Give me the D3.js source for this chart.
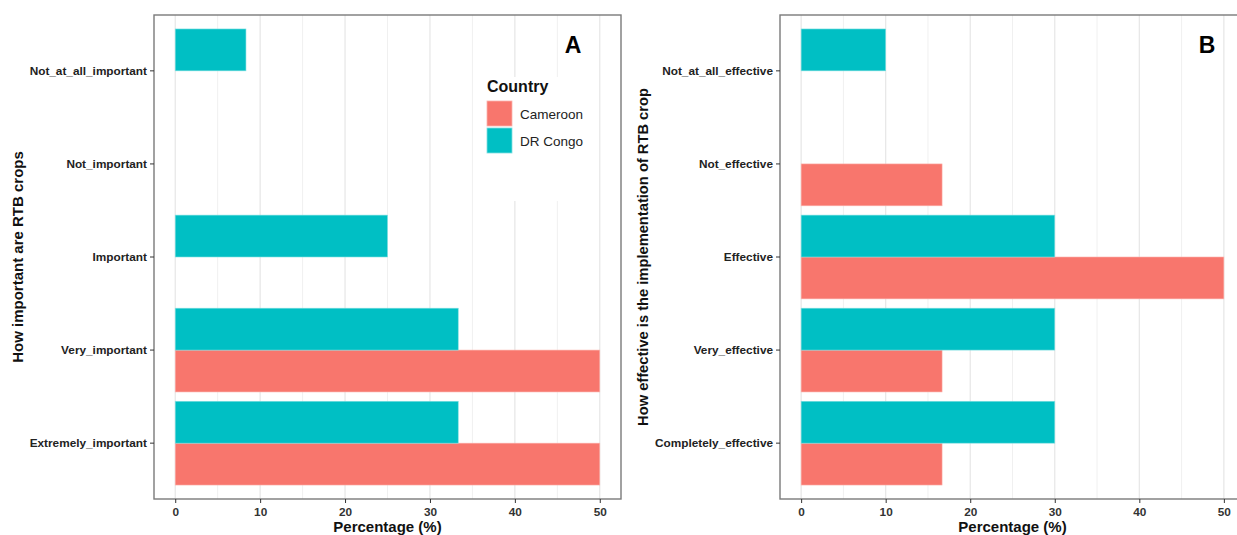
<!DOCTYPE html>
<html>
<head>
<meta charset="utf-8">
<script src="https://cdn.jsdelivr.net/npm/d3@7"></script>
<style>
html,body{margin:0;padding:0;background:#fff;}
svg{display:block;font-family:"Liberation Sans",Arial,sans-serif;}
</style>
</head>
<body>
<svg id="chart" width="1237" height="535"></svg>
<script>
// ---- data ----
const countries = ["Cameroon", "DR Congo"];
const colors = ["#F8766D", "#00BFC4"];

const categoriesA = ["Not_at_all_important", "Not_important", "Important", "Very_important", "Extremely_important"];
const cameroonA = [0, 0, 0, 50, 50];
const drcongoA = [8.33, 0, 25, 33.33, 33.33];

const categoriesB = ["Not_at_all_effective", "Not_effective", "Effective", "Very_effective", "Completely_effective"];
const cameroonB = [0, 16.67, 50, 16.67, 16.67];
const drcongoB = [10, 0, 30, 30, 30];

const xTicks = [0, 10, 20, 30, 40, 50];
const xMinor = [5, 15, 25, 35, 45];

const svg = d3.select("#chart");

function panel(opts) {
  const {left, right, top, bottom, cats, cam, drc, ytitle, ytitleX, ytitleSize, letter, letterX, legend} = opts;
  const g = svg.append("g");
  const x = d3.scaleLinear().domain([-2.5, 52.5]).range([left, right]);
  const y = d3.scaleBand().domain(cats).range([top, bottom]).paddingInner(0.1).paddingOuter(0.15);
  const sub = d3.scaleBand().domain(["DR Congo", "Cameroon"]).range([0, y.bandwidth()]);

  const clipId = "clip" + letter;
  svg.append("clipPath").attr("id", clipId).append("rect")
    .attr("x", left).attr("y", top).attr("width", right - left).attr("height", bottom - top);
  const pg = g.append("g").attr("clip-path", `url(#${clipId})`);

  // grid
  pg.selectAll(".minor").data(xMinor).enter().append("line")
    .attr("x1", d => x(d)).attr("x2", d => x(d)).attr("y1", top).attr("y2", bottom)
    .attr("stroke", "#f0f0f0").attr("stroke-width", 1);
  pg.selectAll(".major").data(xTicks).enter().append("line")
    .attr("x1", d => x(d)).attr("x2", d => x(d)).attr("y1", top).attr("y2", bottom)
    .attr("stroke", "#e6e6e6").attr("stroke-width", 1.2);

  // bars
  const rows = [];
  cats.forEach((c, i) => {
    rows.push({cat: c, country: "Cameroon", v: cam[i]});
    rows.push({cat: c, country: "DR Congo", v: drc[i]});
  });
  pg.selectAll(".bar").data(rows.filter(d => d.v > 0)).enter().append("rect")
    .attr("x", x(0))
    .attr("y", d => y(d.cat) + sub(d.country))
    .attr("width", d => x(d.v) - x(0))
    .attr("height", sub.bandwidth())
    .attr("fill", d => colors[countries.indexOf(d.country)])
    .attr("stroke", d => d.country === "Cameroon" ? "#fbb3ad" : "#7fdfe1")
    .attr("stroke-width", 0.6);

  // legend
  if (legend) {
    const lg = pg.append("g");
    lg.append("rect").attr("x", 476).attr("y", 77).attr("width", 119).attr("height", 124).attr("fill", "#fff");
    lg.append("text").attr("x", 487).attr("y", 92).attr("font-size", 16).attr("font-weight", "bold")
      .attr("fill", "#111").text("Country");
    countries.forEach((c, i) => {
      lg.append("rect").attr("x", 487).attr("y", 101 + i * 27).attr("width", 25).attr("height", 25)
        .attr("fill", colors[i]).attr("stroke", i === 0 ? "#fbb3ad" : "#7fdfe1").attr("stroke-width", 0.8);
      lg.append("text").attr("x", 520).attr("y", 118.5 + i * 27).attr("font-size", 13.5)
        .attr("fill", "#222").text(c);
    });
  }

  // panel letter
  g.append("text").attr("x", letterX).attr("y", 53).attr("text-anchor", "middle")
    .attr("font-size", 23).attr("font-weight", "bold").attr("fill", "#000").text(letter);

  // border
  g.append("rect").attr("x", left).attr("y", top).attr("width", right - left).attr("height", bottom - top)
    .attr("fill", "none").attr("stroke", "#7a7a7a").attr("stroke-width", 1.4);

  // axes
  const xa = g.append("g").attr("transform", `translate(0,${bottom})`)
    .call(d3.axisBottom(x).tickValues(xTicks).tickSize(4).tickPadding(5).tickFormat(d3.format("d")));
  xa.select(".domain").remove();
  xa.selectAll("line").attr("stroke", "#333");
  xa.selectAll("text").attr("font-size", 11.8).attr("font-weight", "bold").attr("fill", "#333")
    .attr("font-family", "'Liberation Sans',Arial,sans-serif");

  const ya = g.append("g").attr("transform", `translate(${left},0)`)
    .call(d3.axisLeft(y).tickSize(4).tickPadding(3));
  ya.select(".domain").remove();
  ya.selectAll("line").attr("stroke", "#333");
  ya.selectAll("text").attr("font-size", 11.8).attr("font-weight", "bold").attr("fill", "#222")
    .attr("font-family", "'Liberation Sans',Arial,sans-serif");

  // titles
  g.append("text").attr("x", (left + right) / 2).attr("y", 532).attr("text-anchor", "middle")
    .attr("font-size", 15).attr("font-weight", "bold").attr("fill", "#111").text("Percentage (%)");
  g.append("text").attr("transform", `translate(${ytitleX},${(top + bottom) / 2}) rotate(-90)`)
    .attr("text-anchor", "middle").attr("font-size", ytitleSize).attr("font-weight", "bold").attr("fill", "#111")
    .text(ytitle);
}

panel({left: 154, right: 621, top: 15, bottom: 499, cats: categoriesA, cam: cameroonA, drc: drcongoA,
  ytitle: "How important are RTB crops", ytitleX: 23, ytitleSize: 15, letter: "A", letterX: 573, legend: true});
panel({left: 780, right: 1245, top: 15, bottom: 499, cats: categoriesB, cam: cameroonB, drc: drcongoB,
  ytitle: "How effective is the implementation of RTB crop", ytitleX: 648, ytitleSize: 14.7, letter: "B", letterX: 1207, legend: false});
</script>
</body>
</html>
